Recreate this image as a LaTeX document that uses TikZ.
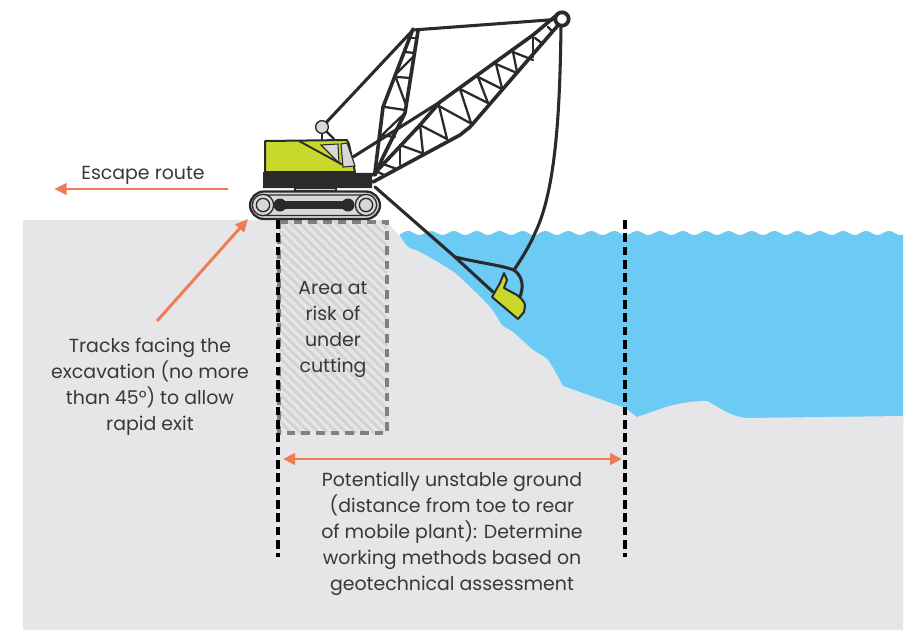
\documentclass[tikz,border=0pt]{standalone}
\usepackage{fontspec}
\setmainfont{Poppins}
\usetikzlibrary{arrows.meta}
\definecolor{ground}{HTML}{E6E6E8}
\definecolor{hatch}{HTML}{D3D3D5}
\definecolor{boxdash}{HTML}{808082}
\definecolor{water}{HTML}{6BCBF5}
\definecolor{lime}{HTML}{C8D92C}
\definecolor{ink}{HTML}{2A2A2A}
\definecolor{txt}{HTML}{38383A}
\definecolor{orangeline}{HTML}{EF7B55}
\definecolor{steel}{HTML}{D8D9D7}
\tikzset{
  label text/.style={font=\fontsize{14.2}{19.5}\selectfont,text=txt,align=center,inner sep=0pt},
  orange arrow/.style={draw=orangeline,line width=2.2pt,-{Triangle[length=9.5pt,width=8.5pt]}},
  orange both/.style={draw=orangeline,line width=2.2pt,{Triangle[length=9pt,width=8.5pt]}-{Triangle[length=9pt,width=8.5pt]}},
  limit line/.style={draw=black,line width=2.5pt,dash pattern=on 6.4pt off 3.6pt},
  box dash/.style={draw=boxdash,line width=2.8pt,dash pattern=on 6.5pt off 4.5pt},
  chord/.style={draw=ink,line width=2.7pt,line join=round,line cap=round},
  web/.style={draw=ink,line width=1.7pt,line cap=round},
  cable/.style={draw=ink,line width=2.3pt,line cap=round},
  outlined/.style={draw=ink,line width=1.5pt,line join=round}
}
\begin{document}
\begin{tikzpicture}[x=0.75pt,y=-0.75pt]
\useasboundingbox (0,0) rectangle (913,640);
% water
\fill[water] (400,236) -- plot[domain=400:903,samples=300] (\x,{233-2*cos((\x-637)/22.9*360)}) -- (903,425) -- (400,425) -- cycle;
% ground
\fill[ground] (23,220) -- (380,220) .. controls (388,222) and (392,228) .. (400,236)
  -- plot[smooth,tension=0.35] coordinates {(400,236) (408,247) (420,252) (455,273) (490,307) (502,325) (513,332) (533,350) (548,360) (563,386)}
  -- (625,408) -- (637,417) -- (663,408) .. controls (675,404) and (690,401) .. (707,401) .. controls (720,408) and (730,416) .. (745,418) -- (903,416) -- (903,630) -- (23,630) -- cycle;
% hatched area
\begin{scope}
\clip (279,221) rectangle (387,433);
\foreach \k in {-26,...,12}
  \draw[hatch,line width=2.2pt] ({279+9.2*\k},221) -- ({279+9.2*\k+215},433);
\end{scope}
\draw[box dash] (279,222) -- (387,222) -- (387,433) -- (279,433) -- cycle;
% limits
\coordinate (limAt) at (278,220); \coordinate (limAb) at (278,557);
\coordinate (limBt) at (625,220); \coordinate (limBb) at (625,557);
\draw[limit line] (limAt) -- (limAb);
\draw[limit line] (limBt) -- (limBb);
% cables
\coordinate (tip) at (562,19);
\coordinate (mast) at (413,30);
\coordinate (ball) at (322,127);
\coordinate (joint) at (514,270);
\draw[cable] (tip) -- (mast);
\draw[cable] (ball) -- (mast);
\draw[cable] (561,25) .. controls (560,110) and (556,190) .. (535,233) .. controls (530,245) and (522,258) .. (joint);
\draw[cable] (375,187) -- (455,257) -- (493,292);
\draw[cable] (455,257) .. controls (480,263) and (500,265) .. (joint);
\draw[cable] (joint) .. controls (522,276) and (525,286) .. (519,299);
% mast
\draw[chord] (413,29) -- (383,107) -- (375,172);
\draw[chord] (418,31) -- (405,113) -- (383,157) -- (375,175);
\draw[web] (408,38) -- (417,38);
\draw[web] (405,52) -- (415,53);
\draw[web] (415,55) -- (397,73);
\draw[web] (397,77) -- (411,78);
\draw[web] (396,78) -- (406,105);
\draw[web] (385,107) -- (405,110);
\draw[web] (405,113) -- (380,137);
\draw[web] (380,135) -- (395,137);
% boom
\draw[chord] (373,175) -- (420,125) -- (440,102) -- (533,35) -- (558,14);
\draw[chord] (373,182) -- (460,135) -- (470,127) -- (560,23);
\draw[cable] (353,157) -- (440,102);
\draw[web] (378,172) -- (384,175);
\draw[web] (380,163) -- (397,169);
\draw[web] (400,145) -- (422,153);
\draw[web] (400,145) -- (400,165);
\draw[web] (420,125) -- (423,153);
\draw[web] (420,125) -- (447,139);
\draw[web] (439,106) -- (447,139);
\draw[web] (439,106) -- (470,123);
\draw[web] (460,89) -- (471,123);
\draw[web] (460,89) -- (488,103);
\draw[web] (478,77) -- (488,103);
\draw[web] (478,77) -- (502,89);
\draw[web] (496,64) -- (502,88);
\draw[web] (496,64) -- (517,73);
\draw[web] (513,52) -- (517,72);
\draw[web] (513,52) -- (533,60);
\draw[web] (533,37) -- (533,57);
\draw[web] (535,38) -- (543,44);
\draw[web] (548,27) -- (553,32);
% tip ring
\node[circle,draw=ink,line width=2.8pt,fill=white,minimum size=10pt,inner sep=0pt] (tipring) at (tip) {};
% upper body
\draw[draw=ink,line width=1.8pt] (322,133) -- (322,140);
\draw[draw=ink,line width=1.6pt] (326,131) -- (334,139);
\node[circle,draw=ink,line width=1pt,fill=steel,minimum size=9.5pt,inner sep=0pt] (ballnode) at (ball) {};
\draw[outlined,fill=lime] (265,172) -- (265,141) -- (347,140) -- (349,144) -- (355,172) -- cycle;
\draw[draw=ink,line width=1.4pt] (299,141) -- (343,165);
\draw[draw=ink,line width=0.8pt,fill=steel] (321,145) -- (338,144) -- (339,163) -- cycle;
\draw[draw=ink,line width=0.8pt,fill=steel] (341,144) -- (347,143) -- (355,166) -- (343,167) -- cycle;
\fill[ink] (263,172) -- (372,173) -- (372,188) -- (263,188) -- cycle;
\draw[draw=ink,line width=0.9pt,fill=steel] (295,188) rectangle (336,191);
% tracks
\draw[draw=ink,line width=1.7pt,fill=steel,rounded corners=10.5pt] (250,191.5) rectangle (380,219);
\draw[draw=ink,line width=0.8pt,rounded corners=8.5pt] (253.5,195) rectangle (376.5,215.5);
\foreach \cx/\nm in {263/wl,366/wr}{
  \node[circle,draw=ink,line width=1pt,fill=steel,minimum size=16pt,inner sep=0pt] (\nm o) at (\cx,205) {};
  \node[circle,draw=ink,line width=1pt,fill=steel,minimum size=10pt,inner sep=0pt] (\nm i) at (\cx,205) {};
}
\draw[draw=ink,line width=5.5pt] (280,205) -- (348,205);
\fill[ink] (280,205) circle [radius=6.5];
\fill[ink] (348,205) circle [radius=6.5];
% bucket
\draw[outlined,fill=lime] (504,273) -- (507,280) -- (504,288) -- (517,295) .. controls (522,299) and (525,302) .. (525,306) -- (524,312) -- (518,319) -- (492,297) -- (500,283) -- cycle;
% arrows
\coordinate (escS) at (228,189); \coordinate (escE) at (54,189);
\draw[orange arrow] (escS) -- (escE);
\coordinate (trkS) at (157,321); \coordinate (trkE) at (248,219);
\draw[orange arrow] (trkS) -- (trkE);
\coordinate (potL) at (283,459); \coordinate (potR) at (622,459);
\draw[orange both] (potL) -- (potR);
% labels
\node[label text] (escape) at (143,175.5) {Escape route};
\node[label text] (tracks) at (150,387) {Tracks facing the\\excavation (no more\\than 45°) to allow\\rapid exit};
\node[label text] (risk) at (333,329) {Area at\\risk of\\under\\cutting};
\node[label text] (unstable) at (452,533.5) {Potentially unstable ground\\(distance from toe to rear\\of mobile plant): Determine\\working methods based on\\geotechnical assessment};
\end{tikzpicture}
\end{document}
